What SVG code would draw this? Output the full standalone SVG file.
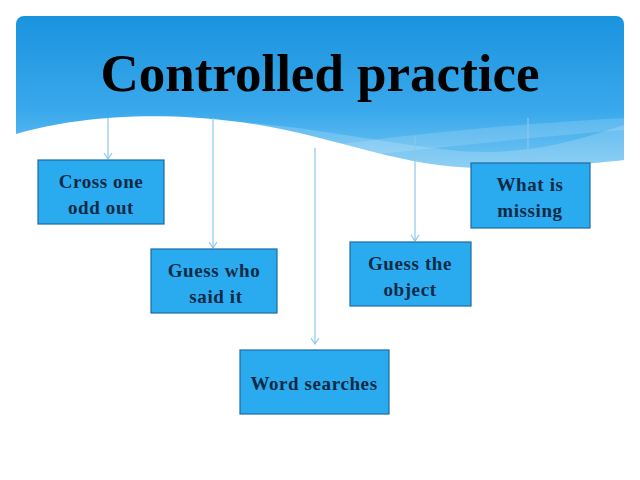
<svg xmlns="http://www.w3.org/2000/svg" width="640" height="480" viewBox="0 0 640 480">
<defs>
<linearGradient id="hdr" x1="0" y1="0" x2="0" y2="1">
<stop offset="0" stop-color="#1a93de"/>
<stop offset="0.6" stop-color="#3aa9ec"/>
<stop offset="1" stop-color="#7cc9f3"/>
</linearGradient>
<marker id="arr" markerWidth="10" markerHeight="8" refX="5" refY="7" markerUnits="userSpaceOnUse" viewBox="0 0 10 8">
<path d="M1,1 L5,7 L9,1" fill="none" stroke="#8cc7ea" stroke-width="1.2"/>
</marker>
<style>
.box{fill:#2aabf0;stroke:#1d6aa3;stroke-width:1.2}
.lbl{font-family:"Liberation Serif","Times New Roman",serif;font-weight:bold;font-size:19px;letter-spacing:0.6px;fill:#0e2a45;text-anchor:middle}
.con{stroke:#8cc7ea;stroke-width:1.2;fill:none}
</style>
</defs>
<rect width="640" height="480" fill="#ffffff"/>
<g id="header">
<rect x="16" y="16" width="608" height="160" rx="8" fill="url(#hdr)"/>
<path d="M170,122 C260,115 360,140 450,150 C520,158 580,140 624,125 L624,170 L170,170 Z" fill="#ffffff" opacity="0.18"/>
<path d="M300,150 C400,135 500,125 624,118 L624,130 C520,138 420,150 320,160 Z" fill="#ffffff" opacity="0.15"/>
<path d="M16,134 C70,118 150,110 240,122 C330,134 400,168 480,168 C540,168 590,164 624,160 L624,200 L16,200 Z" fill="#ffffff"/>
<text x="320" y="91" font-family="'Liberation Serif','Times New Roman',serif" font-weight="bold" font-size="53" fill="#000000" text-anchor="middle">Controlled practice</text>
</g>
<g id="connectors">
<line class="con" x1="108" y1="118" x2="108" y2="159" marker-end="url(#arr)"/>
<line class="con" x1="213" y1="118" x2="213" y2="248" marker-end="url(#arr)"/>
<line class="con" x1="315" y1="148" x2="315" y2="344" marker-end="url(#arr)"/>
<line class="con" x1="415" y1="136" x2="415" y2="241" marker-end="url(#arr)"/>
<line class="con" x1="528" y1="118" x2="528" y2="162" marker-end="url(#arr)"/>
</g>
<g id="n1">
<rect class="box" x="38" y="160" width="126" height="64"/>
<text class="lbl" x="101" y="188">Cross one</text>
<text class="lbl" x="101" y="214">odd out</text>
</g>
<g id="n2">
<rect class="box" x="151" y="249" width="126" height="64"/>
<text class="lbl" x="214" y="277">Guess who</text>
<text class="lbl" x="216" y="303">said it</text>
</g>
<g id="n3">
<rect class="box" x="240" y="350" width="149" height="64"/>
<text class="lbl" x="314" y="390">Word searches</text>
</g>
<g id="n4">
<rect class="box" x="350" y="242" width="121" height="64"/>
<text class="lbl" x="410" y="270">Guess the</text>
<text class="lbl" x="410" y="296">object</text>
</g>
<g id="n5">
<rect class="box" x="471" y="163" width="119" height="65"/>
<text class="lbl" x="530" y="191">What is</text>
<text class="lbl" x="530" y="217">missing</text>
</g>
</svg>
